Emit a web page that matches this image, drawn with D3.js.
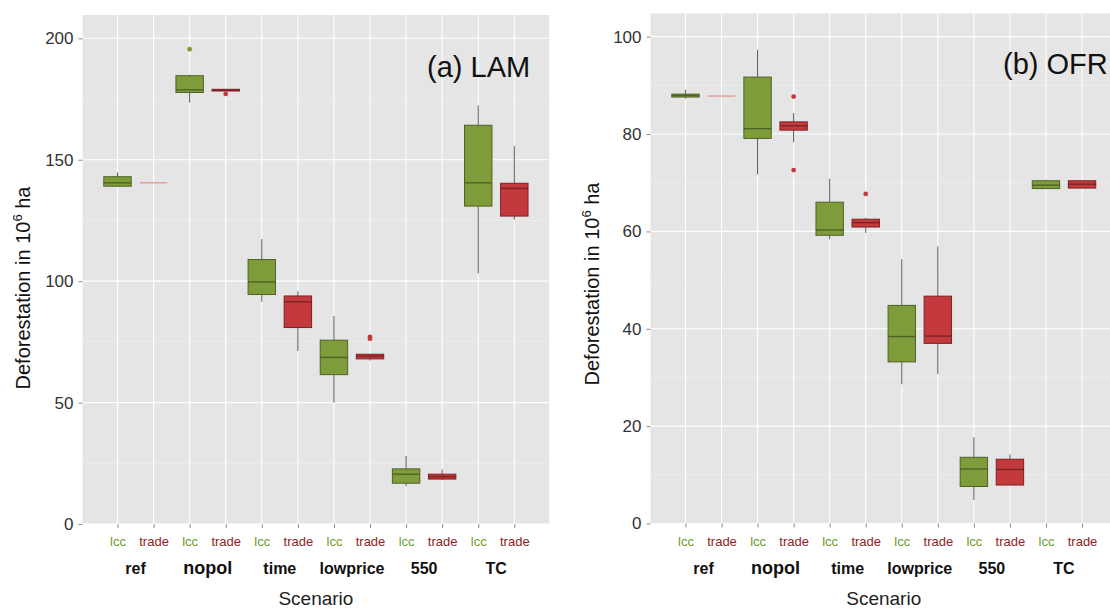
<!DOCTYPE html>
<html>
<head>
<meta charset="utf-8">
<script src="https://cdn.jsdelivr.net/npm/d3@7"></script>
<style>
  body { margin: 0; background: #fff; }
  svg { font-family: "Liberation Sans", Arial, sans-serif; }
</style>
</head>
<body>
<svg id="chart" width="1110" height="610"></svg>
<script>
const scenarios = ["ref", "nopol", "time", "lowprice", "550", "TC"];
const models = ["lcc", "trade"];

// [min, q1, median, q3, max] per scenario
const lamLcc = [[139.1, 139.1, 140.5, 143.0, 144.8], [173.5, 177.7, 178.8, 184.6, 185.0], [91.5, 94.5, 99.7, 108.9, 117.3],
  [50.0, 61.5, 68.6, 75.7, 85.6], [15.5, 16.8, 20.5, 22.7, 28.0], [103.2, 130.9, 140.5, 164.2, 172.4]];
const lamTrade = [[140.5, 140.5, 140.5, 140.5, 140.5], [178.3, 178.3, 178.6, 179.0, 179.0], [71.2, 80.9, 91.5, 93.9, 95.8],
  [67.3, 68.0, 69.1, 69.9, 69.9], [18.2, 18.5, 19.5, 20.5, 22.4], [125.3, 126.8, 138.2, 140.3, 155.6]];
const lamOutLcc = [[], [195.5], [], [], [], []];
const lamOutTrade = [[], [177.1], [], [77.0, 76.3], [], []];

const ofrLcc = [[87.3, 87.6, 87.9, 88.2, 89.1], [71.7, 79.1, 81.1, 91.7, 97.3], [58.4, 59.2, 60.3, 66.0, 70.8],
  [28.6, 33.2, 38.4, 44.8, 54.3], [4.8, 7.6, 11.2, 13.6, 17.7], [68.8, 68.8, 69.5, 70.4, 70.6]];
const ofrTrade = [[87.8, 87.8, 87.8, 87.8, 87.8], [78.3, 80.8, 81.7, 82.5, 84.3], [59.7, 60.9, 61.8, 62.5, 62.8],
  [30.7, 37.0, 38.5, 46.7, 56.9], [7.9, 7.9, 11.1, 13.2, 14.2], [68.9, 68.9, 69.7, 70.4, 70.4]];
const ofrOutLcc = [[], [], [], [], [], []];
const ofrOutTrade = [[], [87.7, 72.6], [67.7], [], [], []];

const lamTicks = [0, 50, 100, 150, 200];
const lamMinor = [25, 75, 125, 175];
const ofrTicks = [0, 20, 40, 60, 80, 100];
const ofrMinor = [10, 30, 50, 70, 90];

const colors = { lcc: "#7f9c3b", trade: "#c3393c" };
const strokes = { lcc: "#4f6224", trade: "#7c2224" };
const flatColors = { lcc: "#a9c06a", trade: "#e59a9a" };
const labelColors = { lcc: "#6f9a2e", trade: "#8e1e22" };

const svg = d3.select("#chart");

function drawPanel(opt) {
  const g = svg.append("g");
  const cats = [];
  scenarios.forEach(s => models.forEach(m => cats.push(s + "|" + m)));

  const x = d3.scalePoint().domain(cats).range([opt.left, opt.right]).padding(0.97);
  const y = d3.scaleLinear().domain([0, opt.ymax]).range([opt.bottom, opt.top]);
  const bw = x.step() * 0.76;

  g.append("rect")
    .attr("x", opt.left).attr("y", opt.top)
    .attr("width", opt.right - opt.left).attr("height", opt.bottom - opt.top)
    .attr("fill", "#e5e5e5");

  // grid
  g.selectAll("line.minor").data(opt.minor).enter().append("line")
    .attr("x1", opt.left).attr("x2", opt.right)
    .attr("y1", d => y(d)).attr("y2", d => y(d))
    .attr("stroke", "#f2f2f2").attr("stroke-width", 0.6);
  g.selectAll("line.major").data(opt.ticks).enter().append("line")
    .attr("x1", opt.left).attr("x2", opt.right)
    .attr("y1", d => y(d)).attr("y2", d => y(d))
    .attr("stroke", "#fff").attr("stroke-width", 1.1);
  g.selectAll("line.vgrid").data(cats).enter().append("line")
    .attr("x1", d => x(d)).attr("x2", d => x(d))
    .attr("y1", opt.top).attr("y2", opt.bottom)
    .attr("stroke", "#fff").attr("stroke-width", 1.1);

  // y axis
  const yAxis = g.append("g")
    .attr("transform", `translate(${opt.left},0)`)
    .call(d3.axisLeft(y).tickValues(opt.ticks).tickSize(4).tickPadding(5));
  yAxis.select(".domain").remove();
  yAxis.attr("font-size", 17).attr("font-family", "Liberation Sans, Arial, sans-serif");
  yAxis.selectAll(".tick line").attr("stroke", "#8a8a8a");
  yAxis.selectAll(".tick text").attr("fill", "#333");

  // x axis
  const xAxis = g.append("g")
    .attr("transform", `translate(0,${opt.bottom})`)
    .call(d3.axisBottom(x).tickSize(4).tickPadding(9).tickFormat(d => d.split("|")[1]));
  xAxis.select(".domain").remove();
  xAxis.attr("font-size", 13).attr("font-family", "Liberation Sans, Arial, sans-serif");
  xAxis.selectAll(".tick line").attr("stroke", "#8a8a8a");
  xAxis.selectAll(".tick text")
    .attr("fill", d => labelColors[d.split("|")[1]]);

  g.selectAll("text.scen").data(scenarios).enter().append("text")
    .attr("x", s => (x(s + "|lcc") + x(s + "|trade")) / 2)
    .attr("y", opt.bottom + 50)
    .attr("text-anchor", "middle")
    .attr("font-weight", "bold")
    .attr("font-size", s => s === "nopol" ? 18 : 16)
    .attr("fill", "#111")
    .text(s => s);

  g.append("text")
    .attr("x", (opt.left + opt.right) / 2).attr("y", opt.bottom + 81)
    .attr("text-anchor", "middle").attr("font-size", 19).attr("fill", "#222")
    .text("Scenario");

  const yt = g.append("text")
    .attr("transform", `translate(${opt.titleX},${opt.titleY}) rotate(-90)`)
    .attr("text-anchor", "middle").attr("font-size", 20).attr("fill", "#111");
  yt.append("tspan").text("Deforestation in 10");
  yt.append("tspan").attr("font-size", 13).attr("dy", -8).text("6");
  yt.append("tspan").attr("dy", 8).text(" ha");

  // boxes
  const boxes = [];
  scenarios.forEach((s, i) => {
    boxes.push({ cat: s + "|lcc", m: "lcc", st: opt.lcc[i], out: opt.outLcc[i] });
    boxes.push({ cat: s + "|trade", m: "trade", st: opt.trade[i], out: opt.outTrade[i] });
  });

  const bg = g.selectAll("g.box").data(boxes).enter().append("g").attr("class", "box");

  bg.filter(d => d.st[3] > d.st[1]).append("line")
    .attr("x1", d => x(d.cat)).attr("x2", d => x(d.cat))
    .attr("y1", d => y(d.st[0])).attr("y2", d => y(d.st[4]))
    .attr("stroke", "#5a5a5a").attr("stroke-width", 1);

  bg.filter(d => d.st[3] > d.st[1]).append("rect")
    .attr("x", d => x(d.cat) - bw / 2).attr("width", bw)
    .attr("y", d => y(d.st[3])).attr("height", d => Math.max(1, y(d.st[1]) - y(d.st[3])))
    .attr("fill", d => colors[d.m]).attr("stroke", d => strokes[d.m]).attr("stroke-width", 1);

  bg.filter(d => d.st[3] > d.st[1]).append("line")
    .attr("x1", d => x(d.cat) - bw / 2).attr("x2", d => x(d.cat) + bw / 2)
    .attr("y1", d => y(d.st[2])).attr("y2", d => y(d.st[2]))
    .attr("stroke", d => strokes[d.m]).attr("stroke-width", 1.4);

  // degenerate boxes (all runs equal)
  bg.filter(d => d.st[3] <= d.st[1]).append("line")
    .attr("x1", d => x(d.cat) - bw / 2).attr("x2", d => x(d.cat) + bw / 2)
    .attr("y1", d => y(d.st[2])).attr("y2", d => y(d.st[2]))
    .attr("stroke", d => flatColors[d.m]).attr("stroke-width", 1.4);

  bg.selectAll("circle").data(d => d.out.map(v => ({ v, cat: d.cat, m: d.m }))).enter().append("circle")
    .attr("cx", d => x(d.cat)).attr("cy", d => y(d.v)).attr("r", 2.4)
    .attr("fill", d => colors[d.m]);

  g.append("text")
    .attr("x", opt.labelX).attr("y", opt.labelY)
    .attr("font-size", 29).attr("fill", "#111")
    .text(opt.label);
}

drawPanel({
  left: 82.5, right: 549.3, top: 15, bottom: 524, ymax: 209.6,
  ticks: lamTicks, minor: lamMinor,
  lcc: lamLcc, trade: lamTrade, outLcc: lamOutLcc, outTrade: lamOutTrade,
  titleX: 30, titleY: 288, label: "(a) LAM", labelX: 427, labelY: 77
});

drawPanel({
  left: 650.5, right: 1117, top: 13.3, bottom: 523.5, ymax: 104.8,
  ticks: ofrTicks, minor: ofrMinor,
  lcc: ofrLcc, trade: ofrTrade, outLcc: ofrOutLcc, outTrade: ofrOutTrade,
  titleX: 599, titleY: 284, label: "(b) OFR", labelX: 1003, labelY: 74
});
</script>
</body>
</html>
